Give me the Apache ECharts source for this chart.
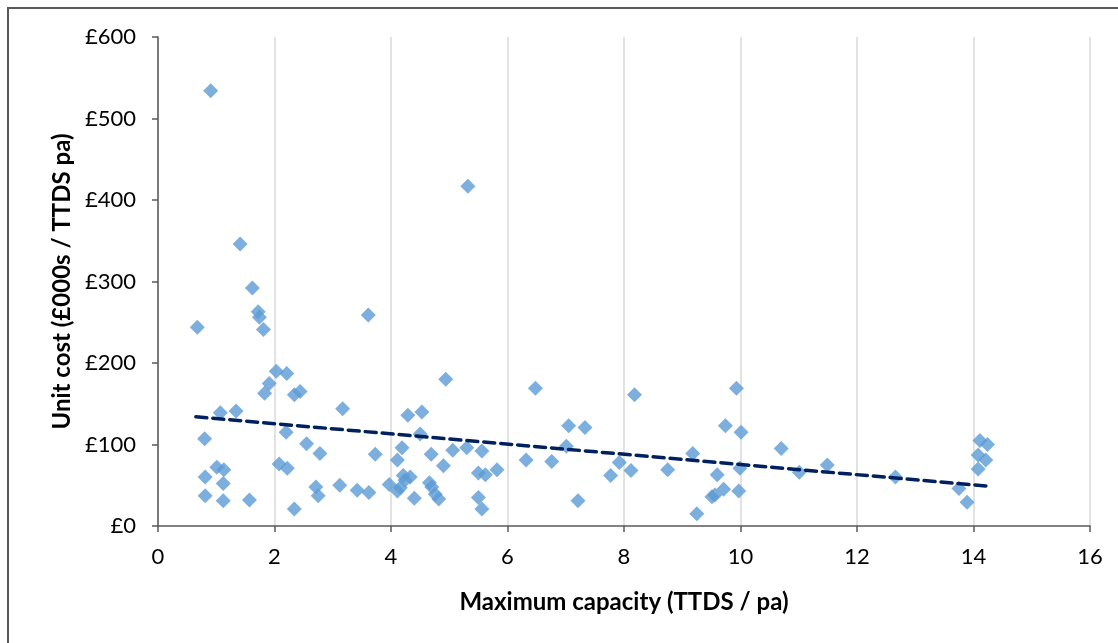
<!DOCTYPE html>
<html>
<head>
<meta charset="utf-8">
<title>Unit cost vs maximum capacity</title>
<script src="https://cdn.jsdelivr.net/npm/echarts@6/dist/echarts.min.js"></script>
<style>
    html, body { margin: 0; padding: 0; background: #fff; overflow: hidden; }
    #frame {
        position: absolute; left: 7px; top: 7px; width: 1200px; height: 700px;
        border-left: 2px solid #595959; border-top: 2px solid #595959;
    }
    #chart { position: absolute; left: 0; top: 0; width: 1118px; height: 643px; }
</style>
</head>
<body>
<div id="frame"></div>
<div id="chart"></div>
<script>
    // 最大产能 (TTDS / pa)
    var capacity = [
        0.905, 5.32, 1.41, 1.62, 0.675, 1.72, 1.74, 1.81, 3.61, 2.03,
        2.21, 1.91, 1.83, 2.34, 2.44, 4.94, 3.17, 1.07, 1.34, 4.29,
        4.53, 0.80, 2.20, 4.50, 2.55, 4.19, 2.78, 3.73, 4.11, 4.69,
        5.06, 5.30, 5.56, 4.90, 5.50, 5.62, 5.82, 2.08, 2.22, 1.01,
        1.13, 0.81, 1.12, 0.81, 1.12, 1.57, 2.34, 2.71, 2.75, 3.12,
        3.42, 3.62, 3.97, 4.11, 4.21, 4.24, 4.33, 4.40, 4.66, 4.70,
        4.76, 4.82, 5.50, 5.56, 6.48, 8.18, 9.93, 7.05, 7.33, 9.74,
        10.01, 7.01, 6.32, 6.76, 7.21, 7.77, 7.92, 8.12, 8.75, 9.18,
        9.25, 9.60, 9.51, 9.56, 9.71, 9.97, 9.99, 10.70, 11.01, 11.49,
        12.66, 13.75, 13.89, 14.11, 14.24, 14.08, 14.21, 14.08, 4.16
    ];
    // 单位成本 (£000s / TTDS pa)
    var unitCost = [
        534, 417, 346, 292, 244, 263, 256, 241, 259, 190,
        187, 175, 163, 161, 165, 180, 144, 139, 141, 136,
        140, 107, 115, 113, 101, 96, 89, 88, 81, 88,
        93, 96, 92, 74, 65, 63, 69, 76, 71, 72,
        69, 60, 52, 37, 31, 32, 21, 48, 37, 50,
        44, 41, 51, 43, 62, 56, 60, 34, 53, 48,
        39, 33, 35, 21, 169, 161, 169, 123, 121, 123,
        115, 98, 81, 79, 31, 62, 78, 68, 69, 89,
        15, 63, 36, 38, 45, 43, 71, 95, 66, 75,
        60, 46, 29, 105, 100, 87, 81, 70, 47
    ];
    // 趋势线两端
    var trendX = [0.65, 14.23];
    var trendY = [134, 49];

    var chart = echarts.init(document.getElementById('chart'));

    var points = [];
    for (var i = 0; i < capacity.length; i++) {
        points.push([capacity[i], unitCost[i]]);
    }
    var trend = [];
    for (var j = 0; j < trendX.length; j++) {
        trend.push([trendX[j], trendY[j]]);
    }

    var fontFam = 'Lato, "Open Sans", sans-serif';

    var option = {
        animation: false,
        grid: { left: 158, right: 28, top: 37, bottom: 117 },
        xAxis: {
            type: 'value',
            min: 0, max: 16, interval: 2,
            name: 'Maximum capacity (TTDS / pa)',
            nameLocation: 'middle',
            nameGap: 64,
            nameTextStyle: { fontFamily: fontFam, fontSize: 24, fontWeight: 'bold', color: '#000' },
            axisLine: { onZero: false, lineStyle: { color: '#595959', width: 1.5 } },
            axisTick: { show: true, length: 6, lineStyle: { color: '#595959', width: 1.5 } },
            axisLabel: { margin: 20, fontFamily: fontFam, fontSize: 22, color: '#000' },
            splitLine: { show: true, lineStyle: { color: '#D9D9D9', width: 1.5 } }
        },
        yAxis: {
            type: 'value',
            min: 0, max: 600, interval: 100,
            name: 'Unit cost (£000s / TTDS pa)',
            nameLocation: 'middle',
            nameRotate: 90,
            nameGap: 80,
            nameTextStyle: { fontFamily: fontFam, fontSize: 24, fontWeight: 'bold', color: '#000' },
            axisLine: { show: true, lineStyle: { color: '#595959', width: 1.5 } },
            axisTick: { show: true, length: 6, lineStyle: { color: '#595959', width: 1.5 } },
            axisLabel: {
                margin: 22, fontFamily: fontFam, fontSize: 22, color: '#000',
                formatter: '£{value}'
            },
            splitLine: { show: false }
        },
        series: [
            {
                name: 'Unit cost',
                type: 'scatter',
                symbol: 'diamond',
                symbolSize: 15,
                itemStyle: { color: '#5B9BD5' },
                data: points,
                z: 2
            },
            {
                name: 'Trend',
                type: 'line',
                showSymbol: false,
                symbol: 'none',
                lineStyle: { color: '#002060', width: 3.5, type: [11, 6], cap: 'round' },
                data: trend,
                z: 3
            }
        ]
    };

    chart.setOption(option);
</script>
</body>
</html>
